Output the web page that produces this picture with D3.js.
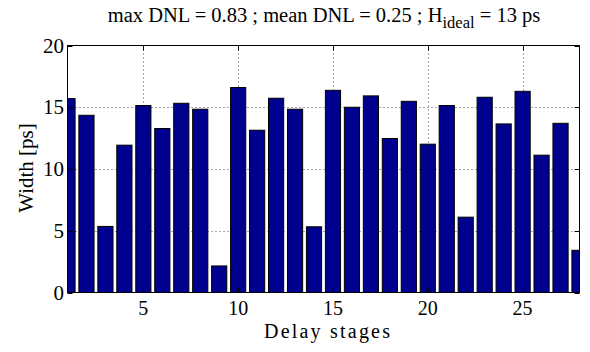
<!DOCTYPE html>
<html><head><meta charset="utf-8">
<script src="https://cdn.jsdelivr.net/npm/d3@7"></script>
<style>body{margin:0;background:#fff}svg{display:block}</style>
</head><body>
<svg id="c" width="590" height="352" font-family="'Liberation Serif', 'DejaVu Serif', 'Times New Roman', Times, serif"></svg>
<script>
const stages = d3.range(1, 29);
const widths = [15.7, 14.35, 5.35, 11.93, 15.14, 13.28, 15.32, 14.84, 2.15, 16.6,
  13.14, 15.73, 14.84, 5.32, 16.37, 15.0, 15.92, 12.47, 15.48, 12.01,
  15.14, 6.1, 15.81, 13.65, 16.29, 11.12, 13.7, 3.42];
const xTicks = [5, 10, 15, 20, 25];
const yTicks = [0, 5, 10, 15, 20];
const titleMain = "max DNL = 0.83 ; mean DNL = 0.25 ; H";
const titleSub = "ideal";
const titleEnd = " = 13 ps";

const svg = d3.select("#c");
const L = 67.5, R = 579.5, T = 45.5, B = 292.5;
const x = d3.scaleLinear().domain([1, 28]).range([L, R]);
const y = d3.scaleLinear().domain([0, 20]).range([B, T]);

svg.append("defs").append("clipPath").attr("id", "clip")
  .append("rect").attr("x", L).attr("y", T).attr("width", R - L).attr("height", B - T);

// grid
const g = svg.append("g").attr("stroke", "#555").attr("stroke-dasharray", "1,3").attr("stroke-width", 1);
xTicks.forEach(t => g.append("line").attr("x1", Math.round(x(t)) + 0.5).attr("x2", Math.round(x(t)) + 0.5).attr("y1", T).attr("y2", B));
yTicks.filter(t => t > 0 && t < 20).forEach(t => g.append("line").attr("x1", L).attr("x2", R).attr("y1", Math.round(y(t)) + 0.5).attr("y2", Math.round(y(t)) + 0.5));

// bars
const bw = x(1.8) - x(1);
svg.append("g").attr("clip-path", "url(#clip)").selectAll("rect").data(widths).join("rect")
  .attr("x", (d, i) => x(stages[i]) - bw / 2)
  .attr("width", bw)
  .attr("y", d => y(d))
  .attr("height", d => y(0) - y(d))
  .attr("fill", "#00008f").attr("stroke", "#000").attr("stroke-width", 1);

// box
svg.append("rect").attr("x", L).attr("y", T).attr("width", R - L).attr("height", B - T)
  .attr("fill", "none").attr("stroke", "#000").attr("stroke-width", 1);

// ticks
const tk = svg.append("g").attr("stroke", "#000").attr("stroke-width", 1);
xTicks.forEach(t => {
  const xx = Math.round(x(t)) + 0.5;
  tk.append("line").attr("x1", xx).attr("x2", xx).attr("y1", B).attr("y2", B - 5);
  tk.append("line").attr("x1", xx).attr("x2", xx).attr("y1", T).attr("y2", T + 5);
});
yTicks.forEach(t => {
  const yy = Math.round(y(t)) + 0.5;
  tk.append("line").attr("x1", L).attr("x2", L + 5).attr("y1", yy).attr("y2", yy);
  tk.append("line").attr("x1", R).attr("x2", R - 5).attr("y1", yy).attr("y2", yy);
});

// tick labels
svg.append("g").selectAll("text").data(xTicks).join("text")
  .attr("x", d => x(d)).attr("y", 315).attr("text-anchor", "middle")
  .attr("font-size", 20).text(d => d);
svg.append("g").selectAll("text").data(yTicks).join("text")
  .attr("x", 64).attr("y", d => y(d) + 7).attr("text-anchor", "end")
  .attr("font-size", 21).text(d => d);

// axis labels
svg.append("text").attr("x", 327).attr("y", 338).attr("text-anchor", "middle")
  .attr("font-size", 20).attr("textLength", 126).attr("lengthAdjust", "spacing").text("Delay stages");
svg.append("text").attr("transform", `translate(33,168) rotate(-90)`)
  .attr("text-anchor", "middle").attr("font-size", 21).text("Width [ps]");

// title
const tt = svg.append("text").attr("x", 324).attr("y", 22).attr("text-anchor", "middle").attr("font-size", 20.5);
tt.append("tspan").text(titleMain);
tt.append("tspan").attr("dy", 6).attr("font-size", 16.5).text(titleSub);
tt.append("tspan").attr("dy", -6).text(titleEnd);
</script>
</body></html>
